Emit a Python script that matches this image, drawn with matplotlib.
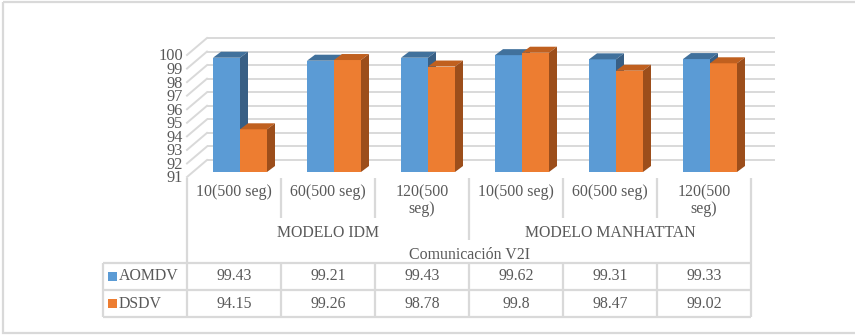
import matplotlib
matplotlib.use("Agg")
import matplotlib.pyplot as plt
from matplotlib.patches import Polygon, Rectangle

# ---- data ----
categories = ["10(500 seg)", "60(500 seg)", "120(500\nseg)",
              "10(500 seg)", "60(500 seg)", "120(500\nseg)"]
groups = ["MODELO IDM", "MODELO MANHATTAN"]
group_title = "Comunicación V2I"
series_names = ["AOMDV", "DSDV"]
aomdv = [99.43, 99.21, 99.43, 99.62, 99.31, 99.33]
dsdv = [94.15, 99.26, 98.78, 99.8, 98.47, 99.02]
y_ticks = list(range(91, 101))

# ---- style ----
FONT = "Liberation Serif"
TXT = "#595959"
GRID = "#D9D9D9"
FS = 11.4
face = {"AOMDV": "#5B9BD5", "DSDV": "#ED7D31"}
top_c = {"AOMDV": "#41719C", "DSDV": "#C0601F"}
side_c = {"AOMDV": "#385F85", "DSDV": "#9C4E1B"}

W, H, DPI = 855, 335, 100
fig = plt.figure(figsize=(W / DPI, H / DPI), dpi=DPI)

# pixel-space layer for frame, category axis and data table
lay = fig.add_axes([0, 0, 1, 1], zorder=0)
lay.set_xlim(0, W)
lay.set_ylim(H, 0)
lay.axis("off")

# plotting plane of the bar fronts
col_w = 94
x_left = 193
y_floor, y_ceil = 172, 50
ax = fig.add_axes([x_left / W, (H - y_floor) / H, 6 * col_w / W, (y_floor - y_ceil) / H],
                  zorder=1)
ax.set_xlim(-0.5, 5.5)
ax.set_ylim(y_ticks[0], y_ticks[-1])
ax.axis("off")
ax.patch.set_alpha(0)

sx = col_w                       # px per category
sy = (y_floor - y_ceil) / (y_ticks[-1] - y_ticks[0])   # px per unit

def px(dx, dy):
    """pixel offset (right, up) -> data offset"""
    return dx / sx, dy / sy

bdx, bdy = px(14, 12)     # back wall relative to bar plane
fdx, fdy = px(-6, -5)     # front edge relative to bar plane
ddx, ddy = px(8, 6)       # bar depth
xmin, xmax = -0.5, 5.5

# back wall gridlines and left wall diagonals
for v in y_ticks:
    ax.plot([xmin + bdx, xmax + bdx + 4 / sx], [v + bdy, v + bdy], color=GRID, lw=1.4,
            clip_on=False, zorder=1, solid_capstyle="butt")
    ax.plot([xmin + fdx, xmin + bdx], [v + fdy, v + bdy], color=GRID, lw=1.4,
            clip_on=False, zorder=1)
    ax.text(xmin - 10 / sx, v - 6.5 / sy, str(v), ha="right", va="center",
            fontsize=11.8, family=FONT, color=TXT, clip_on=False)

# 3D-looking bars
bw = 27 / sx
base = y_ticks[0]
for name, vals, off, z in (("AOMDV", aomdv, -bw, 3), ("DSDV", dsdv, 0.0, 4)):
    xs = [i + off for i in range(len(vals))]
    ax.bar(xs, [v - base for v in vals], bottom=base, width=bw, align="edge",
           color=face[name], edgecolor="none", zorder=z, clip_on=False)
    for x0, v in zip(xs, vals):
        x1 = x0 + bw
        ax.add_patch(Polygon([(x0, v), (x1, v), (x1 + ddx, v + ddy), (x0 + ddx, v + ddy)],
                             closed=True, fc=top_c[name], ec="none", zorder=z, clip_on=False))
        ax.add_patch(Polygon([(x1, base), (x1, v), (x1 + ddx, v + ddy), (x1 + ddx, base + ddy)],
                             closed=True, fc=side_c[name], ec="none", zorder=z, clip_on=False))

# ---- outer frame ----
lay.add_patch(Rectangle((3, 2), 870, 331, fill=False, ec=GRID, lw=1.6, clip_on=False))

def vline(x, y0, y1):
    lay.plot([x, x], [y0, y1], color=GRID, lw=1.6, solid_capstyle="butt")

def hline(y, x0, x1):
    lay.plot([x0, x1], [y, y], color=GRID, lw=1.6, solid_capstyle="butt")

c0, c6 = 187, 187 + 6 * col_w
tab_top, tab_mid, tab_bot = 263, 290, 317
lab_x0 = 103

# category axis separators
vline(c0, 178, tab_bot)
vline(c6, 178, tab_bot)
for k in range(1, 6):
    x = c0 + k * col_w
    vline(x, 178, 240 if k == 3 else 218)
    vline(x, tab_top, tab_bot)
vline(lab_x0, tab_top, tab_bot)
for y in (tab_top, tab_mid, tab_bot):
    hline(y, lab_x0, c6)

txt = dict(family=FONT, color=TXT, fontsize=FS)
for i, c in enumerate(categories):
    lay.text(c0 + col_w * (i + 0.5), 184, c, ha="center", va="top", linespacing=1.05, **txt)
for g, gname in enumerate(groups):
    lay.text(c0 + col_w * (3 * g + 1.5), 233, gname, ha="center", va="center", **txt)
lay.text(c0 + col_w * 3, 255, group_title, ha="center", va="center", **txt)

# data table
for r, (name, vals) in enumerate(((series_names[0], aomdv), (series_names[1], dsdv))):
    yc = (tab_top + tab_mid) / 2 + r * (tab_mid - tab_top)
    lay.add_patch(Rectangle((108, yc - 4.5), 9, 9, fc=face[name], ec="none"))
    lay.text(119, yc, name, ha="left", va="center", **txt)
    for i, v in enumerate(vals):
        lay.text(c0 + col_w * (i + 0.5), yc, f"{v:g}", ha="center", va="center", **txt)

fig.savefig("out.png", dpi=DPI)
